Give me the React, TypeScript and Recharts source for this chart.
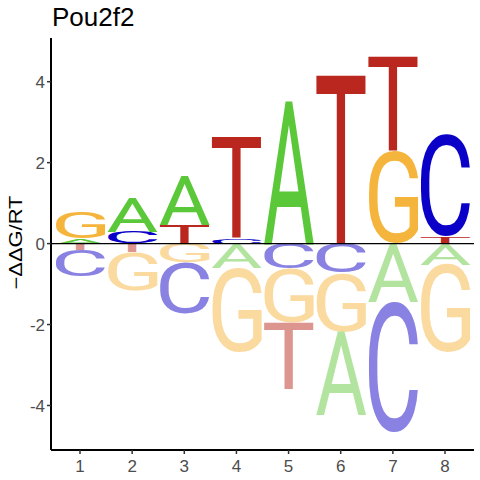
import React from 'react';
import { ComposedChart, Bar, XAxis, YAxis, ReferenceLine, Customized } from 'recharts';

const positions = [1, 2, 3, 4, 5, 6, 7, 8];
const upLetters = [["A", "G"], ["C", "A"], ["T", "A"], ["C", "T"], ["A"], ["T"], ["G", "T"], ["T", "C"]];
const upHeights = [[0.13, 0.65], [0.29, 0.86], [0.47, 1.22], [0.13, 2.52], [3.56], [4.21], [2.28, 2.35], [0.17, 2.5]];
const downLetters = [["T", "C"], ["T", "G"], ["G", "C"], ["A", "G"], ["C", "G", "T"], ["C", "G", "A"], ["A", "C"], ["A", "G"]];
const downHeights = [[0.17, 0.65], [0.22, 0.93], [0.45, 1.28], [0.6, 2.08], [0.62, 1.33, 1.65], [0.72, 1.45, 2.07], [1.44, 3.21], [0.52, 2.16]];
const yTicks = [-4, -2, 0, 2, 4];
const title = "Pou2f2";
const yLabel = "\u2212\u0394\u0394G/RT";

const upColors: Record<string, string> = { A: "#5BC83A", C: "#0A00C8", G: "#F5B43C", T: "#B9271E" };
const downColors: Record<string, string> = { A: "#B2E4A0", C: "#8A82E2", G: "#FADA9F", T: "#DC968F" };

const GLYPH_FONT = "Roboto";
const GLYPH_WEIGHT = 400;
const TEXT_FONT = '"Liberation Sans", Arial, sans-serif';

const data = positions.map((p, i) => {
  const row: Record<string, number> = { pos: p };
  for (let k = 0; k < 2; k++) row["u" + k] = upHeights[i][k] ?? 0;
  for (let k = 0; k < 3; k++) row["d" + k] = -(downHeights[i][k] ?? 0);
  return row;
});

const boxCache: Record<string, { left: number; right: number; asc: number; desc: number }> = {};
function glyphBox(ch: string) {
  if (boxCache[ch]) return boxCache[ch];
  const c = document.createElement("canvas");
  const ctx = c.getContext("2d")!;
  ctx.font = `${GLYPH_WEIGHT} 100px ${GLYPH_FONT}`;
  const m = ctx.measureText(ch);
  const b = {
    left: m.actualBoundingBoxLeft,
    right: m.actualBoundingBoxRight,
    asc: m.actualBoundingBoxAscent,
    desc: m.actualBoundingBoxDescent,
  };
  boxCache[ch] = b;
  return b;
}

function makeShape(letters: string[][], colors: Record<string, string>, k: number) {
  return (props: any) => {
    const { x, y, width, height, index } = props;
    const ch = letters[index]?.[k];
    if (!ch || !height || !width) return <g />;
    const top = Math.min(y, y + height);
    const h = Math.abs(height);
    const b = glyphBox(ch);
    const sx = width / (b.left + b.right);
    const sy = h / (b.asc + b.desc);
    return (
      <text
        transform={`translate(${x + b.left * sx},${top + b.asc * sy}) scale(${sx},${sy})`}
        fontFamily={GLYPH_FONT}
        fontWeight={GLYPH_WEIGHT}
        fontSize={100}
        fill={colors[ch]}
      >
        {ch}
      </text>
    );
  };
}

const Labels = () => (
  <g>
    <text x={52} y={26} fontFamily={TEXT_FONT} fontSize={26} fill="#000">{title}</text>
    <text
      transform="translate(22,242.5) rotate(-90)"
      textAnchor="middle"
      fontFamily={TEXT_FONT}
      fontSize={18}
      textLength={94}
      lengthAdjust="spacingAndGlyphs"
      fill="#000"
    >
      {yLabel}
    </text>
  </g>
);

export default function App() {
  const tickStyle = { fill: "#4D4D4D", fontSize: 17, fontFamily: TEXT_FONT };
  return (
    <div style={{ position: "absolute", left: 0, top: 0, width: 480, height: 480, background: "#fff" }}>
      <ComposedChart
        width={480}
        height={480}
        data={data}
        stackOffset="sign"
        barCategoryGap="2.5%"
        margin={{ top: 38, right: 6, bottom: 0, left: 0 }}
      >
        <XAxis
          dataKey="pos"
          type="number"
          domain={[0.444, 8.556]}
          ticks={positions}
          allowDataOverflow
          height={30}
          tickSize={4}
          tickMargin={6}
          axisLine={{ stroke: "#000", strokeWidth: 2 }}
          tickLine={{ stroke: "#333", strokeWidth: 1.5 }}
          tick={tickStyle}
        />
        <YAxis
          type="number"
          domain={[-5.1, 5.08]}
          ticks={yTicks}
          allowDataOverflow
          width={51}
          tickSize={4}
          tickMargin={2}
          axisLine={{ stroke: "#000", strokeWidth: 2 }}
          tickLine={{ stroke: "#333", strokeWidth: 1.5 }}
          tick={tickStyle}
        />
        {[0, 1].map((k) => (
          <Bar key={"u" + k} dataKey={"u" + k} stackId="s" isAnimationActive={false} shape={makeShape(upLetters, upColors, k)} />
        ))}
        {[0, 1, 2].map((k) => (
          <Bar key={"d" + k} dataKey={"d" + k} stackId="s" isAnimationActive={false} shape={makeShape(downLetters, downColors, k)} />
        ))}
        <ReferenceLine y={0} stroke="#000" strokeWidth={1.2} />
        <Customized component={Labels} />
      </ComposedChart>
    </div>
  );
}
